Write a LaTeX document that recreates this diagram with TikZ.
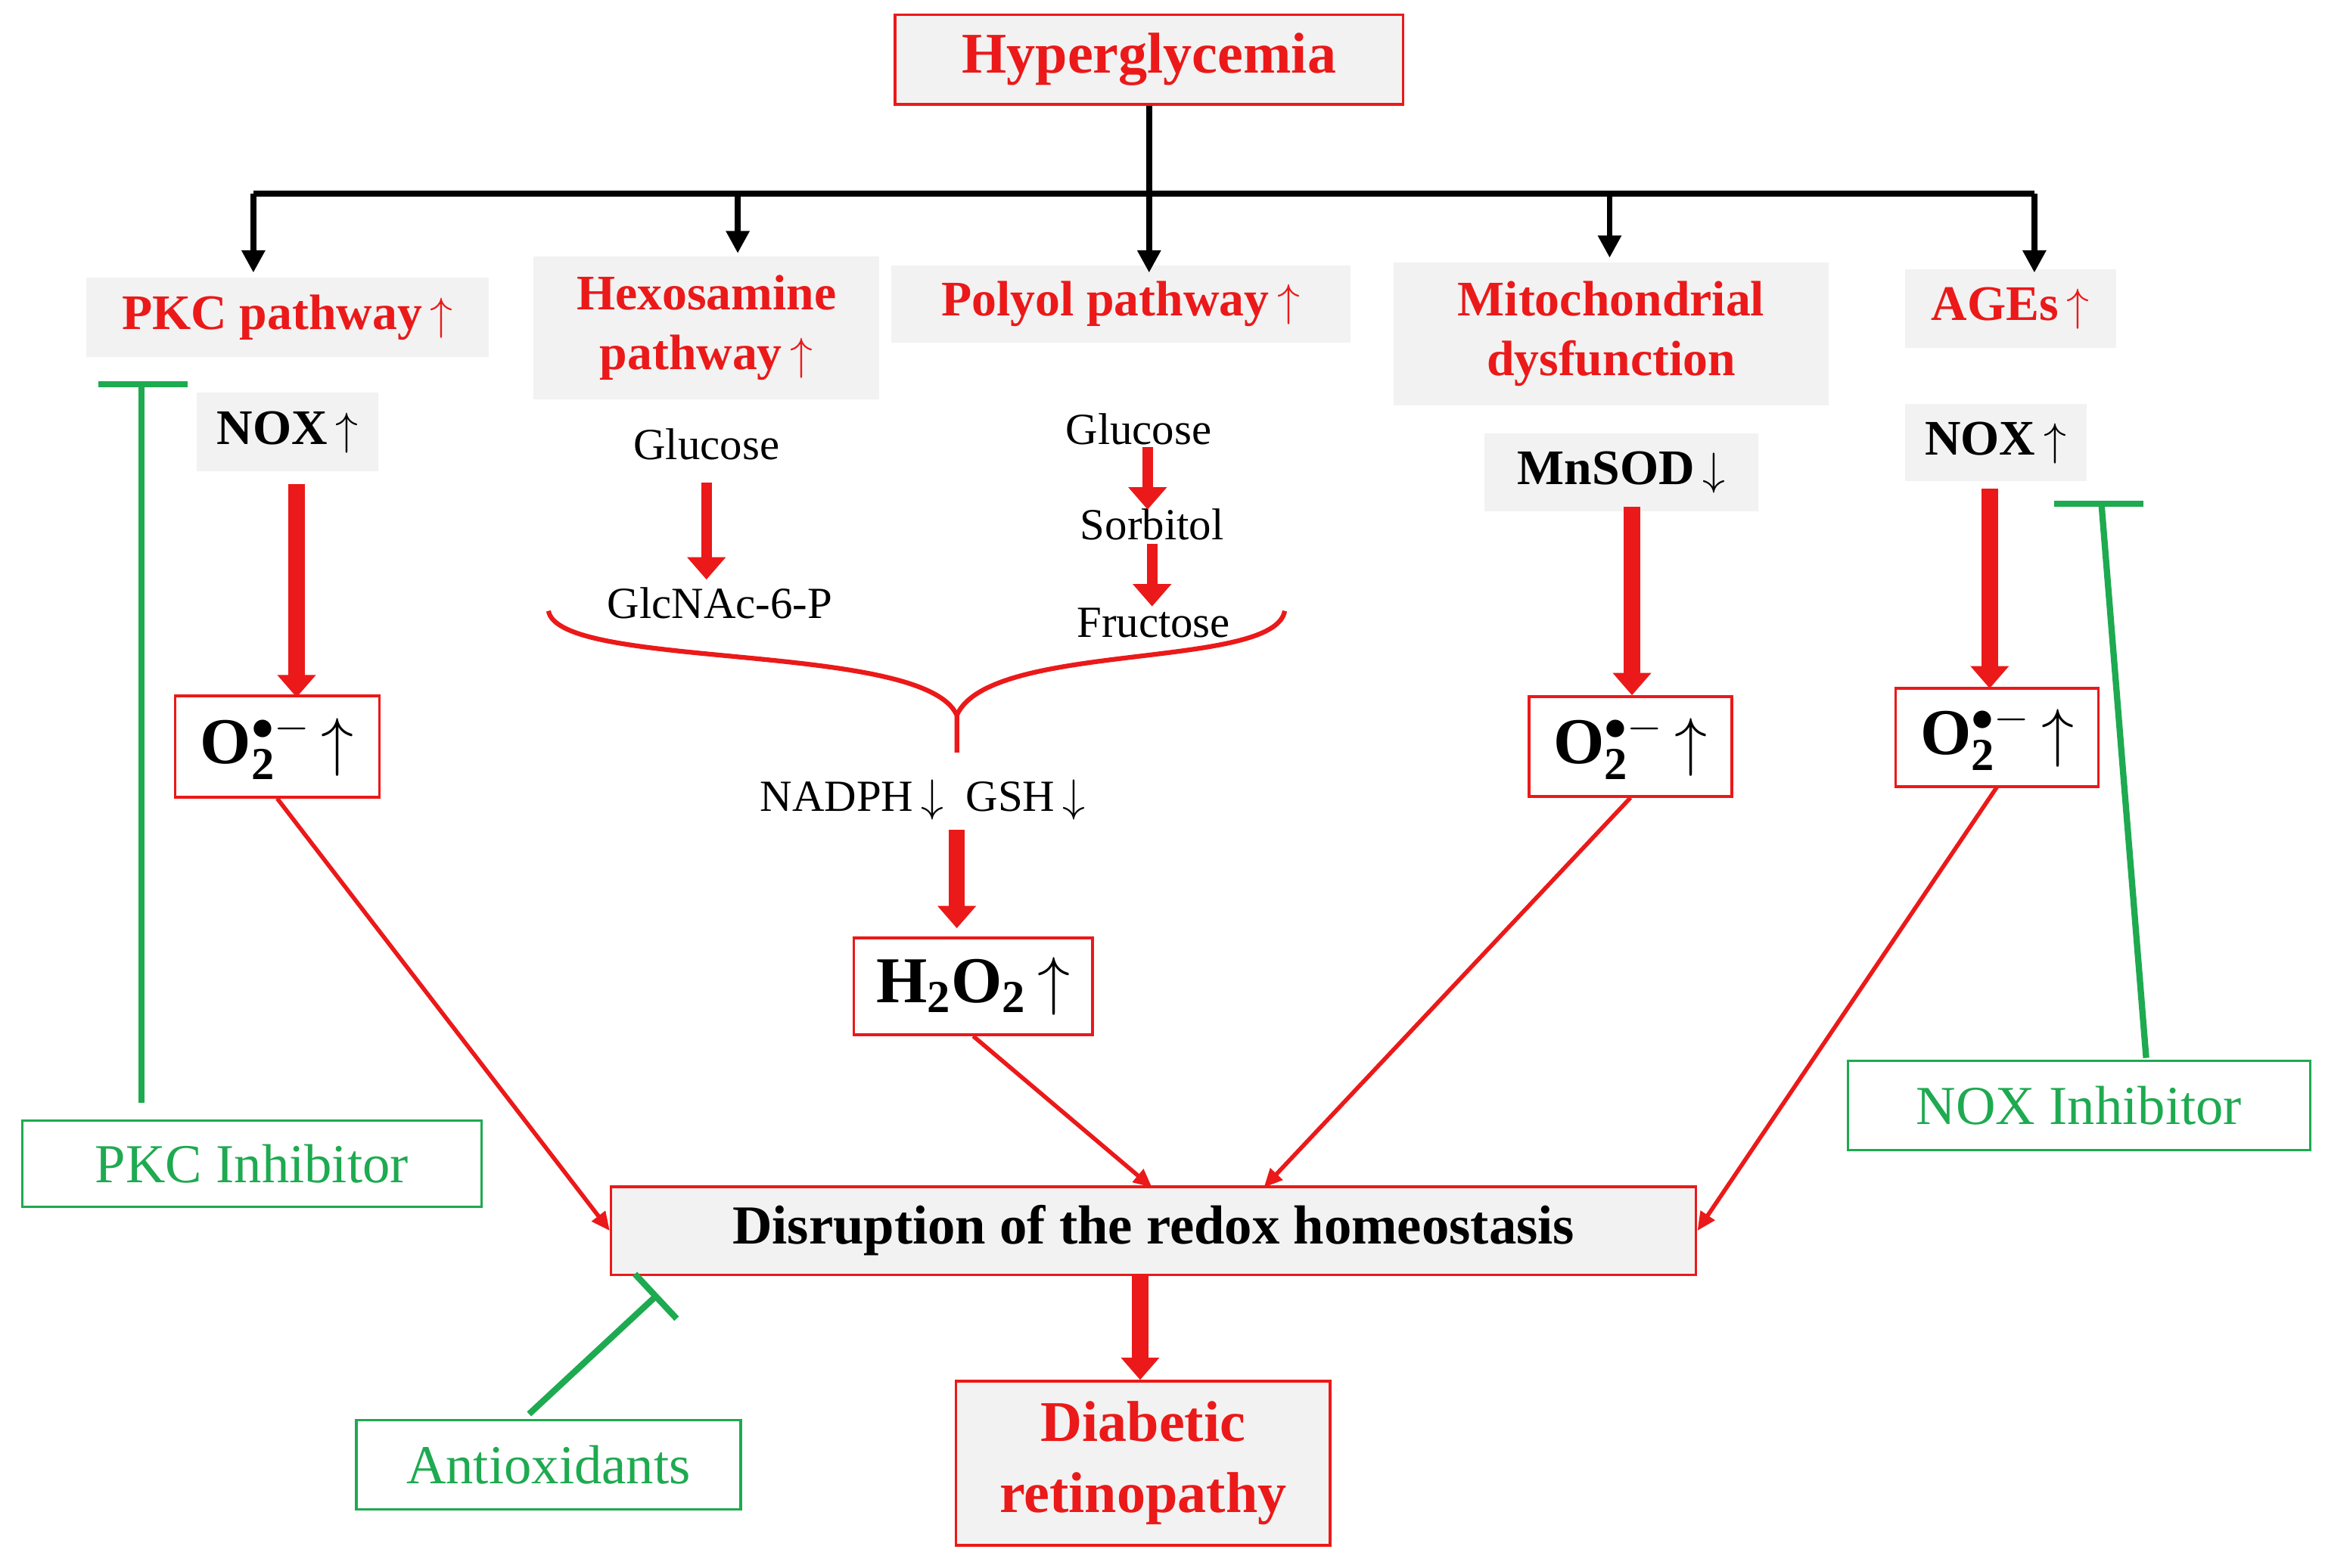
\documentclass[tikz,border=0pt]{standalone}
\usepackage{fontspec}
\setmainfont{Liberation Serif}
\usetikzlibrary{arrows.meta}
\definecolor{gbg}{RGB}{242,242,242}
\definecolor{rd}{RGB}{235,25,25}
\definecolor{gr}{RGB}{30,170,80}
\begin{document}
\begin{tikzpicture}[x=0.02cm,y=-0.02cm,
 box/.style={inner sep=0pt,align=center,font=\fontsize{19}{23}\selectfont\bfseries},
 cat/.style={box,fill=gbg,text=rd},
 gray/.style={box,fill=gbg,text=black},
 obox/.style={box,draw=rd,line width=1pt,fill=white,font=\fontsize{25}{29}\selectfont\bfseries},
 gbox/.style={inner sep=0pt,draw=gr,line width=1pt,text=gr,font=\fontsize{21}{25}\selectfont},
 plain/.style={inner sep=1pt,font=\fontsize{17}{20}\selectfont},
 blk/.style={-{Triangle[length=0.3cm,width=0.3cm]},line width=2.2pt,black},
 fat/.style={-{Triangle[length=0.3cm,width=0.5cm]},line width=0.22cm,rd},
 thin/.style={-{Triangle[length=0.25cm,width=0.22cm]},line width=1.6pt,rd},
 inh/.style={line width=2.4pt,gr}]
\useasboundingbox (0,0) rectangle (1560,1052);
\node[box,draw=rd,line width=1pt,fill=gbg,text=rd,minimum width=341*0.02cm,minimum height=60*0.02cm,font=\fontsize{22}{26}\selectfont\bfseries] (hyp) at (771,40) {Hyperglycemia};
\node[cat,minimum width=270*0.02cm,minimum height=53*0.02cm] (pkc) at (193,213) {PKC pathway\,$\uparrow$};
\node[cat,minimum width=232*0.02cm,minimum height=96*0.02cm] (hex) at (474,220) {Hexosamine\\pathway\,$\uparrow$};
\node[cat,minimum width=308*0.02cm,minimum height=52*0.02cm] (pol) at (752,204) {Polyol pathway\,$\uparrow$};
\node[cat,minimum width=292*0.02cm,minimum height=96*0.02cm] (mit) at (1081,224) {Mitochondrial\\dysfunction};
\node[cat,minimum width=142*0.02cm,minimum height=53*0.02cm] (age) at (1349,207) {AGEs\,$\uparrow$};
\coordinate (h1) at (771,130);
\coordinate (hl) at (170,130); \coordinate (hr) at (1365,130);
\draw[line width=2.2pt] (hyp.south) -- (h1);
\draw[line width=2.2pt] (hl) -- (hr);
\coordinate (t1) at (170,183); \coordinate (t2) at (495,170); \coordinate (t3) at (771,183);
\coordinate (t4) at (1080,173); \coordinate (t5) at (1365,183);
\coordinate (s2) at (495,130); \coordinate (s4) at (1080,130);
\draw[blk] (hl) -- (t1); \draw[blk] (s2) -- (t2); \draw[blk] (h1) -- (t3);
\draw[blk] (s4) -- (t4); \draw[blk] (hr) -- (t5);
% PKC column
\node[gray,minimum width=122*0.02cm,minimum height=53*0.02cm] (nox1) at (193,290) {NOX\,$\uparrow$};
\node[obox,minimum width=137*0.02cm,minimum height=68*0.02cm] (o1) at (186,501) {O$_\mathbf{2}^{\bullet-}$\,$\uparrow$};
\coordinate (a1s) at (199,325); \coordinate (a1e) at (199,468);
\draw[fat] (a1s) -- (a1e);
% Hexosamine
\node[plain] (glu1) at (474,298) {Glucose};
\node[plain] (glc) at (483,405) {GlcNAc-6-P};
\draw[fat,line width=0.14cm] (474,324) -- (474,389);
% Polyol
\node[plain] (glu2) at (764,288) {Glucose};
\node[plain] (sor) at (773,352) {Sorbitol};
\node[plain] (fru) at (774,418) {Fructose};
\draw[fat,line width=0.14cm] (770,300) -- (770,342);
\draw[fat,line width=0.14cm] (773,365) -- (773,407);
% brace
\coordinate (br) at (642,505);
\draw[rd,line width=1.8pt] (368,410) .. controls (375,450) and (620,430) .. (642,480) -- (br);
\draw[rd,line width=1.8pt] (862,410) .. controls (855,450) and (664,430) .. (642,480);
\node[plain] (nad) at (619,537) {NADPH\,$\downarrow$\ \ GSH\,$\downarrow$};
\draw[fat] (642,557) -- (642,623);
\node[obox,minimum width=160*0.02cm,minimum height=65*0.02cm] (h2o2) at (653,662) {H$_\mathbf{2}$O$_\mathbf{2}$\,$\uparrow$};
% Mito
\node[gray,minimum width=184*0.02cm,minimum height=52*0.02cm] (mn) at (1088,317) {MnSOD\,$\downarrow$};
\node[obox,minimum width=136*0.02cm,minimum height=67*0.02cm] (o2) at (1094,501) {O$_\mathbf{2}^{\bullet-}$\,$\uparrow$};
\draw[fat] (1095,340) -- (o2.north -| 1095,0);
% AGEs
\node[gray,minimum width=122*0.02cm,minimum height=52*0.02cm] (nox2) at (1339,297) {NOX\,$\uparrow$};
\node[obox,minimum width=136*0.02cm,minimum height=66*0.02cm] (o3) at (1340,495) {O$_\mathbf{2}^{\bullet-}$\,$\uparrow$};
\draw[fat] (1335,328) -- (1335,462);
% Disruption
\node[box,draw=rd,line width=1pt,fill=gbg,minimum width=728*0.02cm,minimum height=59*0.02cm,font=\fontsize{21}{25}\selectfont\bfseries] (dis) at (774,826) {Disruption of the redox homeostasis};
\draw[thin] (o1.south) -- (dis.west);
\draw[thin] (h2o2.south) -- (773,797);
\draw[thin] (o2.south) -- (848,797);
\draw[thin] (1340,528) -- (dis.east);
\node[box,draw=rd,line width=1pt,fill=gbg,text=rd,minimum width=251*0.02cm,minimum height=110*0.02cm,font=\fontsize{22}{27}\selectfont\bfseries] (dr) at (767,982) {Diabetic\\retinopathy};
\draw[fat] (765,856) -- (dr.north -| 765,0);
% inhibitors
\node[gbox,minimum width=308*0.02cm,minimum height=58*0.02cm] (pkci) at (169,781) {PKC Inhibitor};
\draw[inh] (95,740) -- (95,258); \draw[inh] (66,258) -- (126,258);
\node[gbox,minimum width=310*0.02cm,minimum height=60*0.02cm] (noxi) at (1395,742) {NOX Inhibitor};
\draw[inh] (1440,710) -- (1410,338); \draw[inh] (1378,338) -- (1438,338);
\node[gbox,minimum width=258*0.02cm,minimum height=60*0.02cm] (anti) at (368,983) {Antioxidants};
\draw[inh] (355,949) -- (440,870); \draw[inh] (426,855) -- (454,885);
\end{tikzpicture}
\end{document}
